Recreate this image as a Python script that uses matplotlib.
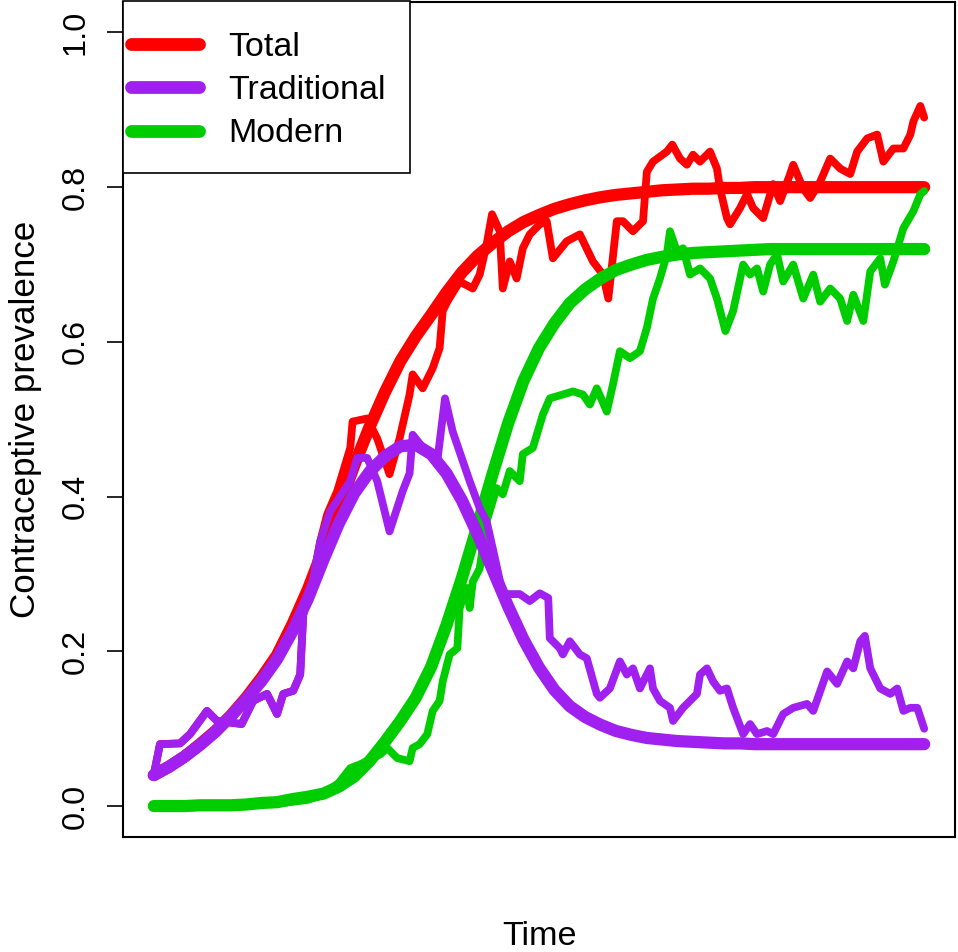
import matplotlib
matplotlib.use("Agg")
import matplotlib.pyplot as plt
from matplotlib.patches import Rectangle

plt.rcParams['font.family'] = ['Liberation Sans', 'DejaVu Sans']

RED = '#FF0000'
PURPLE = '#A020F0'
GREEN = '#00CD00'

# smooth model curves, every 2 time units
t_model = list(range(0, 101, 2))
total_model = [0.040, 0.051, 0.064, 0.080, 0.097, 0.117, 0.140, 0.166, 0.195,
               0.235, 0.280, 0.332, 0.385, 0.440, 0.490, 0.535, 0.575, 0.607,
               0.635, 0.664, 0.690, 0.711, 0.728, 0.743, 0.755, 0.764, 0.772,
               0.778, 0.783, 0.787, 0.790, 0.792, 0.794, 0.796, 0.797, 0.798,
               0.798, 0.799, 0.799, 0.800, 0.800, 0.800, 0.800, 0.800, 0.800,
               0.800, 0.800, 0.800, 0.800, 0.800, 0.800]
trad_model = [0.040, 0.051, 0.064, 0.079, 0.096, 0.116, 0.138, 0.162, 0.190,
              0.226, 0.268, 0.318, 0.365, 0.404, 0.432, 0.452, 0.465, 0.467,
              0.455, 0.430, 0.395, 0.352, 0.305, 0.258, 0.215, 0.179, 0.150,
              0.129, 0.115, 0.105, 0.097, 0.092, 0.088, 0.086, 0.084, 0.083,
              0.082, 0.081, 0.081, 0.080, 0.080, 0.080, 0.080, 0.080, 0.080,
              0.080, 0.080, 0.080, 0.080, 0.080, 0.080]
modern_model = [0.000, 0.000, 0.000, 0.001, 0.001, 0.001, 0.002, 0.004, 0.005,
                0.009, 0.012, 0.016, 0.025, 0.038, 0.058, 0.083, 0.110, 0.140,
                0.180, 0.234, 0.295, 0.362, 0.430, 0.495, 0.550, 0.592, 0.624,
                0.650, 0.668, 0.682, 0.693, 0.700, 0.706, 0.710, 0.713, 0.715,
                0.716, 0.717, 0.718, 0.719, 0.720, 0.720, 0.720, 0.720, 0.720,
                0.720, 0.720, 0.720, 0.720, 0.720, 0.720]

# simulated (noisy) trajectories
t_trad = [0.0, 0.8, 3.4, 4.7, 6.9, 8.2, 9.9, 11.4, 12.9, 14.7, 16.0, 16.8, 18.1,
          19.0, 19.4, 20.6, 21.6, 22.9, 25.5, 26.4, 27.7, 29.0, 30.6, 32.3, 33.2,
          33.6, 35.2, 36.8, 37.8, 38.8, 41.0, 42.3, 43.2, 44.0, 45.3, 47.5, 48.8,
          50.1, 51.2, 51.4, 52.7, 53.1, 54.0, 55.3, 56.2, 57.5, 57.9, 59.2, 60.5,
          61.4, 62.2, 63.1, 64.4, 64.8, 65.7, 67.0, 67.4, 68.7, 70.5, 70.9, 71.8,
          72.6, 73.5, 74.4, 75.2, 76.5, 77.4, 78.3, 79.6, 80.4, 81.7, 83.0, 84.8,
          85.6, 87.4, 88.7, 90.0, 90.8, 91.7, 92.3, 93.0, 94.3, 95.6, 96.5, 97.3,
          98.2, 99.1, 100.0]
trad_obs = [0.041, 0.080, 0.081, 0.093, 0.123, 0.110, 0.108, 0.106, 0.136, 0.145,
            0.119, 0.145, 0.149, 0.170, 0.248, 0.290, 0.342, 0.381, 0.420, 0.450,
            0.450, 0.420, 0.355, 0.407, 0.430, 0.480, 0.460, 0.446, 0.527, 0.484,
            0.420, 0.385, 0.368, 0.333, 0.274, 0.274, 0.265, 0.275, 0.269, 0.217,
            0.204, 0.196, 0.213, 0.196, 0.191, 0.145, 0.140, 0.152, 0.187, 0.170,
            0.178, 0.152, 0.178, 0.152, 0.136, 0.127, 0.110, 0.127, 0.145, 0.170,
            0.178, 0.161, 0.149, 0.152, 0.127, 0.093, 0.106, 0.093, 0.097, 0.093,
            0.119, 0.127, 0.132, 0.123, 0.174, 0.158, 0.187, 0.178, 0.213, 0.220,
            0.178, 0.152, 0.145, 0.152, 0.123, 0.127, 0.127, 0.100]

t_total = [0.0, 0.8, 3.4, 4.7, 6.9, 8.2, 9.9, 11.4, 12.9, 14.7, 16.0, 16.8, 18.1,
           19.0, 19.4, 20.6, 21.6, 22.5, 23.8, 25.5, 25.8, 27.7, 29.0, 30.6, 31.9,
           33.2, 33.6, 34.9, 36.2, 37.1, 37.5, 38.1, 39.7, 41.4, 42.3, 43.2, 43.9,
           44.9, 45.3, 46.2, 47.1, 47.9, 48.8, 50.1, 51.0, 51.8, 53.6, 55.3, 57.0,
           58.3, 59.0, 60.1, 60.9, 62.2, 63.5, 64.0, 64.8, 66.6, 67.3, 68.3, 69.2,
           70.0, 70.9, 72.2, 73.1, 73.5, 74.4, 74.8, 76.1, 77.0, 77.8, 79.1, 80.4,
           81.3, 82.6, 83.0, 84.3, 85.2, 86.5, 87.8, 89.1, 90.4, 91.3, 92.6, 93.9,
           94.7, 96.0, 97.3, 98.2, 98.6, 99.5, 100.0]
total_obs = [0.041, 0.080, 0.081, 0.093, 0.123, 0.110, 0.108, 0.106, 0.136, 0.145,
             0.119, 0.145, 0.149, 0.170, 0.248, 0.290, 0.342, 0.377, 0.407, 0.463,
             0.497, 0.501, 0.475, 0.429, 0.475, 0.532, 0.558, 0.540, 0.566, 0.592,
             0.640, 0.652, 0.678, 0.669, 0.687, 0.726, 0.765, 0.743, 0.669, 0.704,
             0.682, 0.721, 0.739, 0.752, 0.756, 0.708, 0.730, 0.739, 0.704, 0.687,
             0.656, 0.756, 0.756, 0.743, 0.756, 0.820, 0.833, 0.846, 0.855, 0.837,
             0.829, 0.842, 0.833, 0.846, 0.824, 0.798, 0.760, 0.752, 0.773, 0.791,
             0.773, 0.760, 0.804, 0.782, 0.817, 0.829, 0.798, 0.786, 0.807, 0.837,
             0.824, 0.817, 0.846, 0.863, 0.868, 0.833, 0.850, 0.850, 0.868, 0.885,
             0.905, 0.890]

t_modern = [0.0, 8.0, 16.0, 20.0, 22.0, 24.0, 25.5, 26.8, 29.4, 30.3, 31.6, 33.2,
            33.6, 34.5, 35.5, 36.2, 37.1, 37.5, 38.4, 39.4, 39.7, 40.6, 41.0, 41.4,
            42.3, 43.2, 44.5, 45.3, 46.2, 47.5, 47.9, 49.2, 50.5, 51.4, 53.1, 54.4,
            55.7, 56.6, 57.5, 58.8, 59.6, 60.5, 61.8, 63.1, 64.0, 64.8, 65.7, 66.6,
            67.0, 67.9, 68.7, 69.6, 70.9, 72.2, 73.1, 74.2, 75.2, 76.5, 77.4, 78.3,
            79.1, 80.0, 80.9, 81.7, 83.0, 84.3, 85.6, 86.5, 87.8, 89.1, 90.0, 90.8,
            92.1, 93.0, 94.3, 94.9, 96.0, 97.3, 98.6, 99.5, 100.0]
modern_obs = [0.000, 0.000, 0.003, 0.008, 0.015, 0.030, 0.049, 0.054, 0.067, 0.075,
              0.062, 0.058, 0.075, 0.080, 0.093, 0.123, 0.136, 0.161, 0.196, 0.204,
              0.256, 0.282, 0.256, 0.290, 0.307, 0.368, 0.411, 0.403, 0.433, 0.420,
              0.455, 0.463, 0.506, 0.527, 0.532, 0.536, 0.532, 0.519, 0.540, 0.510,
              0.545, 0.588, 0.579, 0.588, 0.618, 0.656, 0.682, 0.713, 0.743, 0.717,
              0.721, 0.687, 0.695, 0.682, 0.656, 0.614, 0.640, 0.700, 0.687, 0.695,
              0.665, 0.700, 0.713, 0.678, 0.700, 0.656, 0.687, 0.652, 0.669, 0.656,
              0.627, 0.661, 0.627, 0.691, 0.708, 0.674, 0.704, 0.747, 0.769, 0.791,
              0.795]

yticks = [0.0, 0.2, 0.4, 0.6, 0.8, 1.0]
legend_labels = ['Total', 'Traditional', 'Modern']

W, H = 958, 952
fig = plt.figure(figsize=(W / 100, H / 100), dpi=100)
ax = fig.add_axes([123 / W, 1 - 837 / H, 832 / W, 835.5 / H])

lw_model = 8.8
lw_obs = 5.6
kw = dict(solid_capstyle='round', solid_joinstyle='round')

l_tot, = ax.plot(t_model, total_model, color=RED, lw=lw_model, **kw)
ax.plot(t_total, total_obs, color=RED, lw=lw_obs, **kw)
l_mod, = ax.plot(t_model, modern_model, color=GREEN, lw=lw_model, **kw)
ax.plot(t_modern, modern_obs, color=GREEN, lw=lw_obs, **kw)
l_tra, = ax.plot(t_model, trad_model, color=PURPLE, lw=lw_model, **kw)
ax.plot(t_trad, trad_obs, color=PURPLE, lw=lw_obs, **kw)

ax.set_xlim(-4, 104)
ax.set_ylim(-0.04, 1.04)
ax.set_xticks([])
ax.set_yticks(yticks)
ax.set_yticklabels([f'{v:.1f}' for v in yticks], rotation=90, va='center',
                   fontsize=23.3)
ax.tick_params(axis='y', length=11.5, width=1.2, pad=12)
for s in ax.spines.values():
    s.set_linewidth(1.5)

ax.set_ylabel('Contraceptive prevalence', fontsize=25.2)
ax.yaxis.set_label_coords(-0.097, 0.5)
ax.set_xlabel('Time', fontsize=24.6)
ax.xaxis.set_label_coords(0.501, -0.101)

# legend box like R's legend()
ax.add_patch(Rectangle((0, 0.7947), 0.345, 0.2053, transform=ax.transAxes,
                       facecolor='white', edgecolor='black', lw=1.2,
                       zorder=5, clip_on=False))
leg = ax.legend([l_tot, l_tra, l_mod], legend_labels, loc='upper left',
                bbox_to_anchor=(0.0096, 0.9636), borderaxespad=0, borderpad=0,
                frameon=False, fontsize=24.5, handlelength=2.0,
                handletextpad=0.85, labelspacing=0.36)
leg.set_zorder(6)
for h in leg.get_lines():
    h.set_linewidth(9.2)
    h.set_solid_capstyle('round')

fig.savefig('out.png', dpi=100)
